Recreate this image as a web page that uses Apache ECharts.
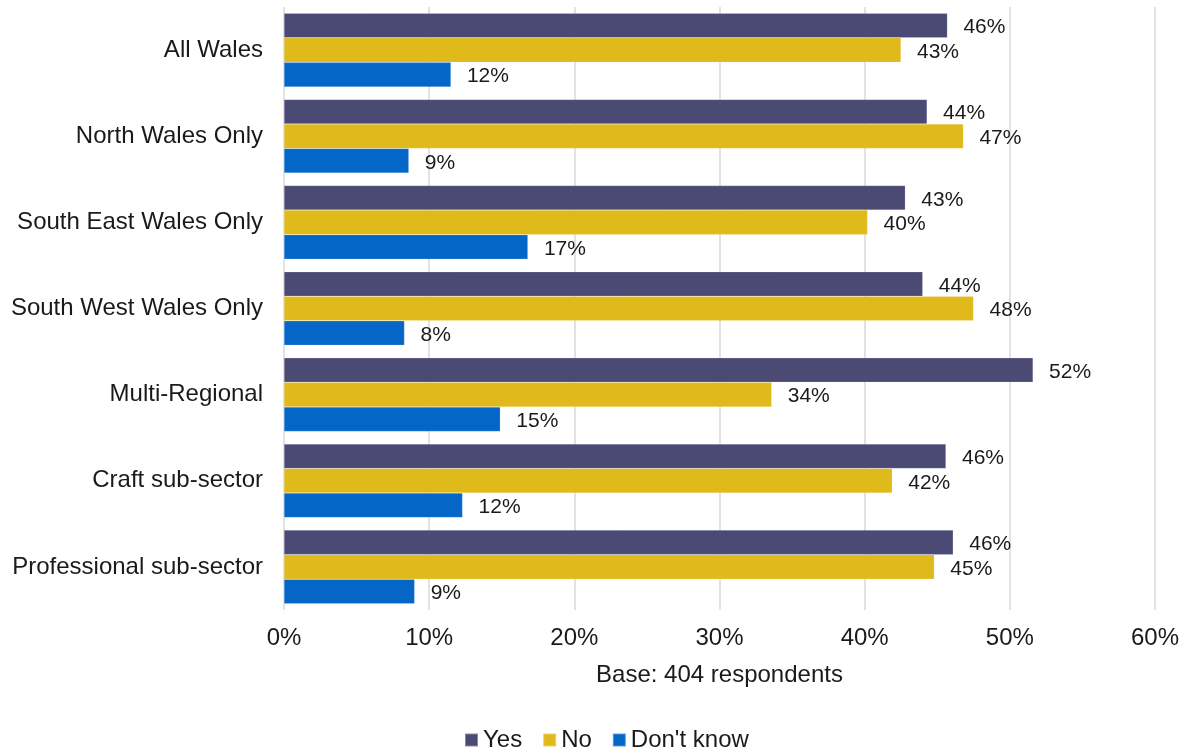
<!DOCTYPE html>
<html>
<head>
<meta charset="utf-8">
<script src="https://cdn.jsdelivr.net/npm/echarts@6/dist/echarts.min.js"></script>
<style>html,body{margin:0;padding:0;background:#fff;}#c{width:1189px;height:754px;}</style>
</head>
<body>
<div id="c"></div>
<script>
const categories = ["All Wales","North Wales Only","South East Wales Only","South West Wales Only","Multi-Regional","Craft sub-sector","Professional sub-sector"];
const yesValues = [45.7, 44.3, 42.8, 44.0, 51.6, 45.6, 46.1];
const noValues = [42.5, 46.8, 40.2, 47.5, 33.6, 41.9, 44.8];
const dontKnowValues = [11.5, 8.6, 16.8, 8.3, 14.9, 12.3, 9.0];
const xTicks = [0, 10, 20, 30, 40, 50, 60];

const font = "'Liberation Sans', Arial, sans-serif";
const chart = echarts.init(document.getElementById('c'));
const lbl = {show:true, position:'right', distance:16, offset:[0,2], fontFamily:font, fontSize:21, color:'#1a1a1a', formatter:p=>Math.round(p.value)+'%'};
function s(name, data, color){
  return {name, type:'bar', data, barGap:'0%', barCategoryGap:'14.5%',
    itemStyle:{color, borderColor:'rgba(255,255,255,0.35)', borderWidth:0.5}, label:lbl};
}
chart.setOption({
  animation:false,
  grid:{left:284, right:34, top:7, bottom:144, containLabel:false},
  xAxis:{type:'value', min:xTicks[0], max:xTicks[xTicks.length-1], interval:10,
    axisLine:{show:false}, axisTick:{show:false},
    splitLine:{show:true, lineStyle:{color:'#d9d9d9', width:1.5}},
    axisLabel:{formatter:v=>v+'%', fontFamily:font, fontSize:24, color:'#1a1a1a', margin:16},
    name:'Base: 404 respondents', nameLocation:'middle', nameGap:53,
    nameTextStyle:{fontFamily:font, fontSize:24, color:'#1a1a1a'}},
  yAxis:{type:'category', data:categories, inverse:true,
    axisLine:{show:false}, axisTick:{show:false},
    axisLabel:{fontFamily:font, fontSize:24, color:'#1a1a1a', margin:21}},
  legend:{top:723, left:459, itemWidth:13, itemHeight:13, itemGap:20, icon:'rect',
    textStyle:{fontFamily:font, fontSize:24, color:'#1a1a1a'},
    data:['Yes','No',"Don't know"]},
  series:[s('Yes', yesValues, '#4a4a75'), s('No', noValues, '#e0b91a'), s("Don't know", dontKnowValues, '#0467c8')]
});
</script>
</body>
</html>
